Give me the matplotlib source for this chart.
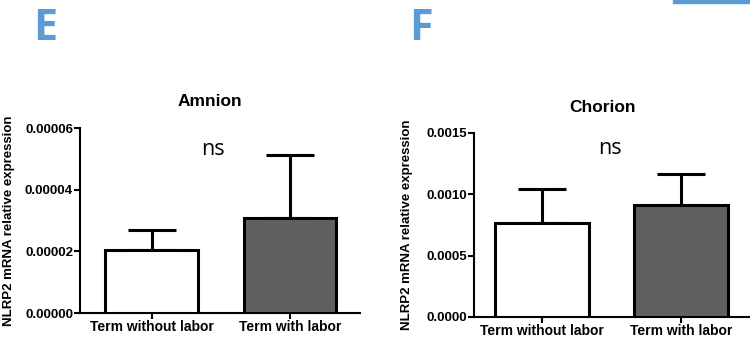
import numpy as np
import matplotlib
matplotlib.use("Agg")
import matplotlib.pyplot as plt
from matplotlib.patches import Rectangle
from matplotlib.ticker import FormatStrFormatter

plt.rcParams['font.family'] = ['Liberation Sans', 'DejaVu Sans']

groups = ['Term without labor', 'Term with labor']
bar_colors = ['white', '#606060']

amnion_mean = [0.0000205, 0.0000308]
amnion_sem = [0.0000064, 0.0000204]
amnion_ticks = [0, 0.00002, 0.00004, 0.00006]

chorion_mean = [0.000768, 0.000915]
chorion_sem = [0.000277, 0.000250]
chorion_ticks = [0, 0.0005, 0.0010, 0.0015]

fig = plt.figure(figsize=(7.5, 3.41), dpi=100)


def panel(rect, means, sems, ticks, fmt, title, tpos, nspos, xlim, lab_x):
    ax = fig.add_axes(rect)
    x = np.arange(len(means))
    ax.bar(x, means, width=0.67, color=bar_colors, edgecolor='black',
           linewidth=2.2, zorder=3)
    ax.errorbar(x, means, yerr=[np.zeros(len(sems)), sems], fmt='none',
                ecolor='black', elinewidth=2.2, capsize=17, capthick=2.2, zorder=2)
    ax.set_xlim(*xlim)
    ax.set_ylim(0, ticks[-1])
    ax.set_yticks(ticks)
    ax.yaxis.set_major_formatter(FormatStrFormatter(fmt))
    ax.set_xticks(x)
    ax.set_xticklabels(groups, fontsize=10, fontweight='bold')
    for lbl in ax.get_yticklabels():
        lbl.set_fontsize(9.5)
        lbl.set_fontweight('bold')
    ax.tick_params(axis='y', length=4, width=1.5, pad=1)
    ax.tick_params(axis='x', length=4, width=1.5, pad=1)
    for s in ['top', 'right']:
        ax.spines[s].set_visible(False)
    for s in ['left', 'bottom']:
        ax.spines[s].set_linewidth(1.5)
    ax.set_ylabel('NLRP2 mRNA relative expression', fontsize=9.5,
                  fontweight='bold')
    ax.yaxis.set_label_coords(lab_x, 0.5)
    ax.text(tpos[0], tpos[1], title, transform=ax.transAxes, ha='center',
            va='center', fontsize=12.5, fontweight='bold')
    ax.text(nspos[0], nspos[1], 'ns', transform=ax.transAxes, ha='center',
            va='center', fontsize=15.5, family=['Open Sans', 'DejaVu Sans'])
    return ax


panel([0.1067, 0.0821, 0.3733, 0.5425], amnion_mean, amnion_sem,
      amnion_ticks, '%.5f', 'Amnion', (0.464, 1.146), (0.475, 0.886),
      (-0.516, 1.505), -0.232)
panel([0.632, 0.0704, 0.368, 0.5396], chorion_mean, chorion_sem,
      chorion_ticks, '%.4f', 'Chorion', (0.467, 1.141), (0.493, 0.913),
      (-0.489, 1.496), -0.221)

fig.text(45 / 750, 1 - 29 / 341, 'E', color='#5B9BD5', fontsize=31,
         fontweight='bold', ha='center', va='center',
         family=['Open Sans', 'DejaVu Sans'])
fig.text(421 / 750, 1 - 29 / 341, 'F', color='#5B9BD5', fontsize=31,
         fontweight='bold', ha='center', va='center',
         family=['Open Sans', 'DejaVu Sans'])
fig.patches.append(Rectangle((673 / 750, 1 - 3 / 341), 77 / 750, 3 / 341,
                             transform=fig.transFigure, color='#5B9BD5'))

fig.savefig('out.png', dpi=100)
